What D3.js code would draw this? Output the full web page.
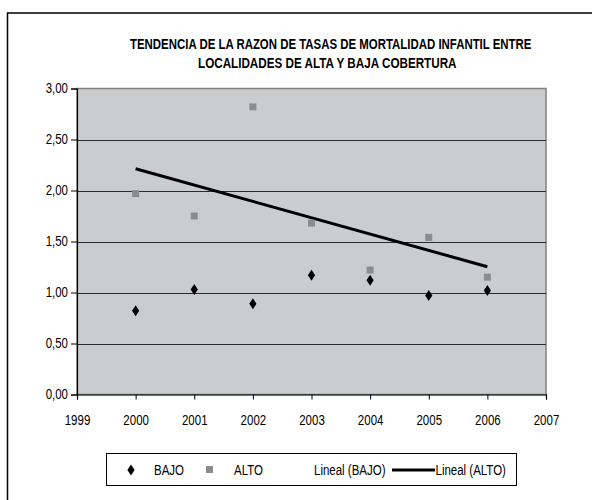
<!DOCTYPE html>
<html>
<head>
<meta charset="utf-8">
<script src="https://cdn.jsdelivr.net/npm/d3@7"></script>
<style>
  body { margin: 0; background: white; }
  svg { display: block; }
  text { font-family: "Liberation Sans", Arial, sans-serif; }
</style>
</head>
<body>
<div id="chart"></div>
<script>
const years = [2000, 2001, 2002, 2003, 2004, 2005, 2006];
const bajo = [0.82, 1.03, 0.89, 1.17, 1.12, 0.97, 1.02];
const alto = [1.97, 1.75, 2.82, 1.68, 1.22, 1.54, 1.15];
const yTicks = [0, 0.5, 1, 1.5, 2, 2.5, 3];
const xTicks = [1999, 2000, 2001, 2002, 2003, 2004, 2005, 2006, 2007];
const titleLines = [
  "TENDENCIA DE LA RAZON DE TASAS DE MORTALIDAD INFANTIL ENTRE",
  "LOCALIDADES DE ALTA Y BAJA COBERTURA"
];
const legendLabels = ["BAJO", "ALTO", "Lineal (BAJO)", "Lineal (ALTO)"];

const width = 592, height = 500;
const plot = { left: 77, right: 546, top: 88.5, bottom: 394.5 };
const narrow = 0.82; // squeeze Liberation Sans to look like Arial Narrow

const svg = d3.select("#chart").append("svg")
  .attr("width", width)
  .attr("height", height);

// outer chart frame (runs off the right and bottom of the picture)
svg.append("rect")
  .attr("x", 7.5).attr("y", 13)
  .attr("width", 700).attr("height", 600)
  .attr("fill", "white")
  .attr("stroke", "black")
  .attr("stroke-width", 1.5);

const x = d3.scaleLinear().domain([1999, 2007]).range([plot.left, plot.right]);
const y = d3.scaleLinear().domain([0, 3]).range([plot.bottom, plot.top]);
const fmt = d3.formatLocale({ decimal: ",", thousands: ".", grouping: [3], currency: ["", ""] }).format(".2f");

// plot background
svg.append("rect")
  .attr("x", plot.left).attr("y", plot.top)
  .attr("width", plot.right - plot.left).attr("height", plot.bottom - plot.top)
  .attr("fill", "#cbcccd")
  .attr("stroke", "#808080")
  .attr("stroke-width", 1.5);

// gridlines
svg.append("g")
  .selectAll("line")
  .data(yTicks.filter(d => d > 0 && d < 3))
  .join("line")
    .attr("x1", plot.left).attr("x2", plot.right)
    .attr("y1", d => Math.round(y(d)) + 0.5).attr("y2", d => Math.round(y(d)) + 0.5)
    .attr("stroke", "#2a2a2a")
    .attr("stroke-width", 1.2);

// axes
const yAxis = svg.append("g")
  .attr("transform", `translate(${plot.left},0)`)
  .call(d3.axisLeft(y).tickValues(yTicks).tickFormat(fmt).tickSize(6).tickPadding(3));
const xAxis = svg.append("g")
  .attr("transform", `translate(0,${plot.bottom})`)
  .call(d3.axisBottom(x).tickValues(xTicks).tickFormat(d3.format("d")).tickSize(5).tickPadding(16));

for (const ax of [xAxis, yAxis]) {
  ax.select(".domain").attr("stroke", "black").attr("stroke-width", 1.2);
  ax.selectAll("line").attr("stroke", "black");
  ax.selectAll("text")
    .attr("font-size", 14)
    .attr("fill", "black")
    .style("font-family", '"Liberation Sans", Arial, sans-serif');
}

// linear trend for ALTO (least squares)
const n = years.length;
const mx = d3.mean(years), my = d3.mean(alto);
const slope = d3.sum(years, (t, i) => (t - mx) * (alto[i] - my)) / d3.sum(years, t => (t - mx) ** 2);
const fit = t => my + slope * (t - mx);
const trendYears = [years[0], years[n - 1]];

svg.append("path")
  .datum(trendYears)
  .attr("d", d3.line().x(t => x(t)).y(t => y(fit(t))))
  .attr("stroke", "black")
  .attr("stroke-width", 3)
  .attr("fill", "none");

// ALTO squares
svg.append("g")
  .selectAll("rect")
  .data(years)
  .join("rect")
    .attr("x", (t) => x(t) - 3.5)
    .attr("y", (t, i) => y(alto[i]) - 3.5)
    .attr("width", 7).attr("height", 7)
    .attr("fill", "#8c8c8c");

// BAJO diamonds
const diamond = "M0,-5.5L3.6,0L0,5.5L-3.6,0Z";
svg.append("g")
  .selectAll("path")
  .data(years)
  .join("path")
    .attr("d", diamond)
    .attr("transform", (t, i) => `translate(${x(t)},${y(bajo[i])})`)
    .attr("fill", "black");

// title, squeezed with a transform so its box stays inside the picture
const titleStart = [130, 198];
const titleWidths = [402, 259];
svg.append("g")
  .selectAll("text")
  .data(titleLines)
  .join("text")
    .attr("font-size", 14)
    .attr("font-weight", "bold")
    .attr("fill", "black")
    .text(d => d)
    .each(function (d, i) {
      const sx = titleWidths[i] / this.getComputedTextLength();
      this.setAttribute("transform", `translate(${titleStart[i]},${49 + i * 18.7}) scale(${sx},1)`);
    });

// legend
const legend = svg.append("g");
legend.append("rect")
  .attr("x", 106.5).attr("y", 453.5)
  .attr("width", 410).attr("height", 32)
  .attr("fill", "white")
  .attr("stroke", "black")
  .attr("stroke-width", 1);

const ly = 470;
legend.append("path").attr("d", diamond).attr("transform", `translate(131,${ly})`).attr("fill", "black");
legend.append("rect").attr("x", 206).attr("y", ly - 4).attr("width", 7).attr("height", 7).attr("fill", "#8c8c8c");
legend.append("line").attr("x1", 392).attr("x2", 435).attr("y1", ly).attr("y2", ly)
  .attr("stroke", "black").attr("stroke-width", 3);

const labelX = [154, 234, 314, 435.5];
legend.selectAll("text.lbl")
  .data(legendLabels)
  .join("text")
    .attr("class", "lbl")
    .attr("x", (d, i) => labelX[i])
    .attr("y", ly + 5)
    .attr("font-size", 14)
    .attr("fill", "black")
    .text(d => d);

// narrow the tick and legend labels
svg.selectAll(".tick text, text.lbl").each(function () {
  this.setAttribute("textLength", this.getComputedTextLength() * narrow);
  this.setAttribute("lengthAdjust", "spacingAndGlyphs");
});
</script>
</body>
</html>
